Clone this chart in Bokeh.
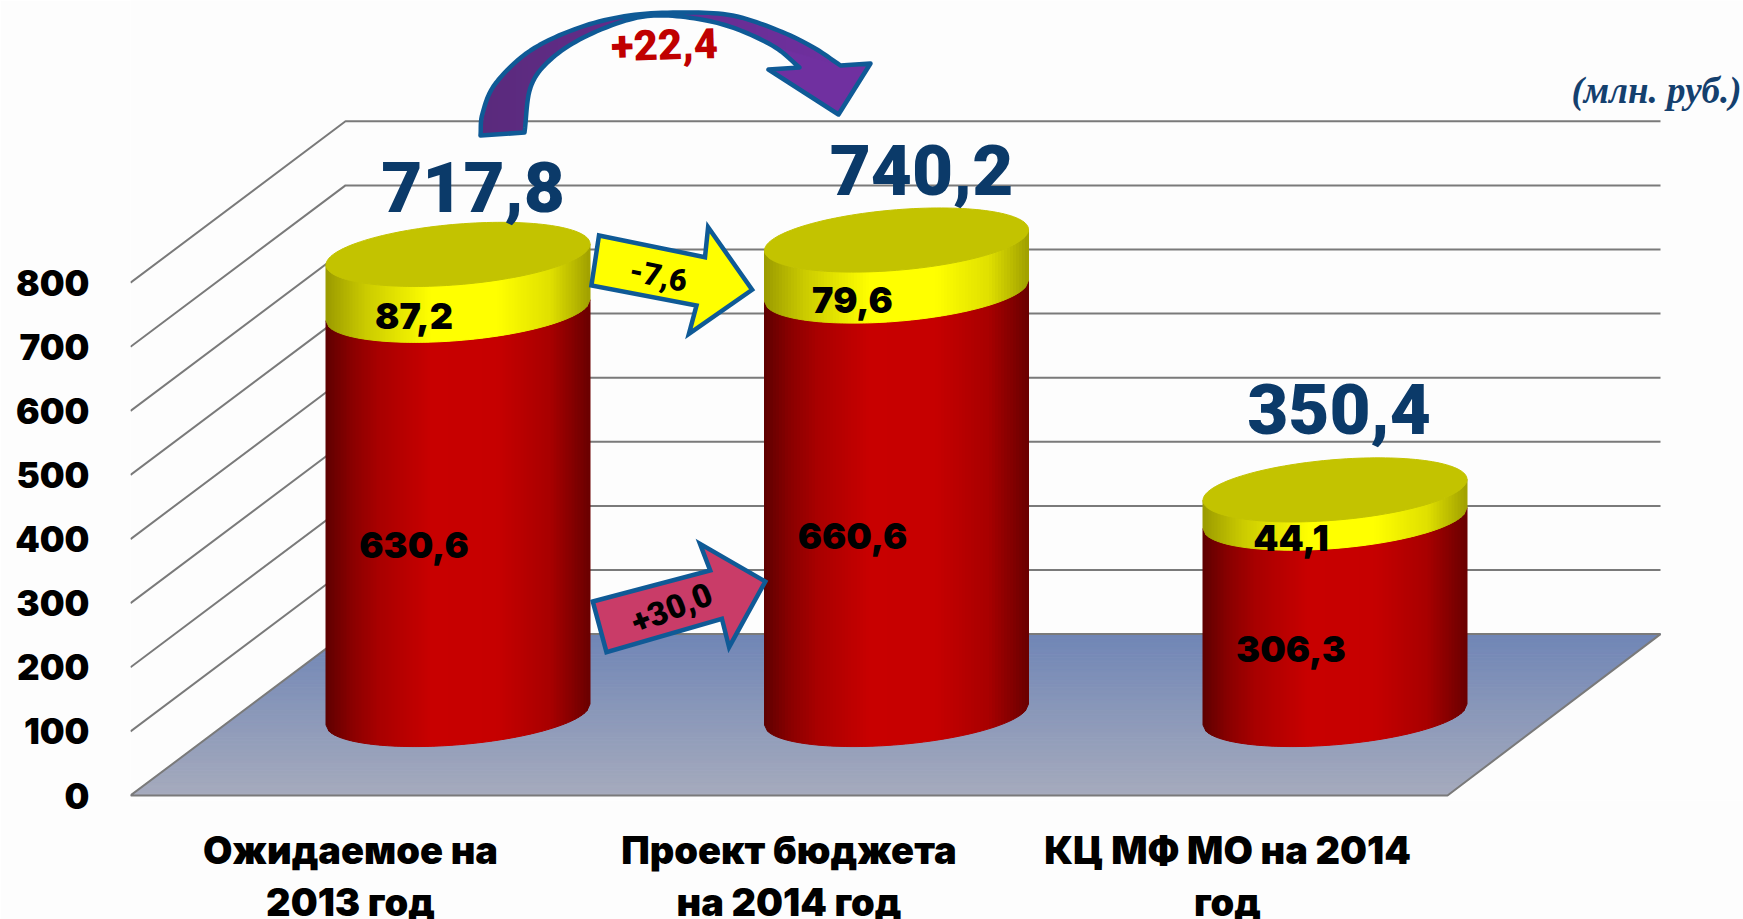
from bokeh.plotting import figure
from bokeh.embed import file_html
from bokeh.resources import INLINE
from bokeh.core.properties import value
from bokeh.models import LinearAxis, FixedTicker, Range1d
import numpy as np

# ---------- data ----------
line1 = ["Ожидаемое на", "Проект бюджета", "КЦ МФ МО на 2014"]
line2 = ["2013 год", "на 2014 год", "год"]
red_vals = [630.6, 660.6, 306.3]
yellow_vals = [87.2, 79.6, 44.1]
totals = [717.8, 740.2, 350.4]
y_ticks = [0, 100, 200, 300, 400, 500, 600, 700, 800]
delta_top = "+22,4"
delta_yellow = "-7,6"
delta_red = "+30,0"
unit_label = "(млн. руб.)"

# ---------- layout (reference pixels) ----------
W, H = 1743, 919
LEFT = 130
FRAME_BOTTOM = 800
ZERO_PX = 795
PX_PER_UNIT = 0.641
CAT0_PX, CAT_STEP = 457.5, 438.5
BASE_LIFT = (ZERO_PX - 714) / PX_PER_UNIT
BACK_LIFT = (ZERO_PX - 633.6) / PX_PER_UNIT
RX, RY, SKEW = 132.0, 30.3, 10.5
TOTAL_OFF = [67, 70, 81]
HEAVY = "Inter Black"


def X(px):
    return (np.asarray(px, dtype=float) - CAT0_PX) / CAT_STEP


def Y(px):
    return (ZERO_PX - np.asarray(px, dtype=float)) / PX_PER_UNIT


def hexc(c):
    return "#%02x%02x%02x" % tuple(int(round(v)) for v in c)


def ramp(stops, t):
    xs = [s[0] for s in stops]
    return hexc([np.interp(t, xs, [s[1][i] for s in stops]) for i in range(3)])


RED = [(0, (0x5e, 0, 0)), (.1, (0x8a, 0, 0)), (.2, (0xa8, 0, 0)), (.4, (0xc8, 0, 0)),
       (.65, (0xc6, 0, 0)), (.85, (0xa8, 0, 0)), (1, (0x6a, 0, 0))]
YEL = [(0, (0x9a, 0x9a, 0)), (.15, (0xca, 0xca, 0)), (.4, (0xff, 0xff, 0)),
       (.65, (0xff, 0xff, 0)), (.85, (0xe0, 0xe0, 0)), (1, (0xa0, 0xa0, 0))]

x0 = X(LEFT)
x1 = X(W)
p = figure(frame_width=W - LEFT, frame_height=FRAME_BOTTOM,
           min_border_left=LEFT, min_border_right=0, min_border_top=0, min_border_bottom=H - FRAME_BOTTOM,
           x_range=Range1d(float(x0), float(x1)),
           y_range=Range1d(float(Y(FRAME_BOTTOM)), float(Y(0))),
           output_backend="svg", toolbar_location=None,
           background_fill_color="#fdfdfd", border_fill_color="#fdfdfd",
           outline_line_color=None, margin=(0, 0, 0, 0))
p.xgrid.visible = False
p.ygrid.visible = False

# ---------- axes ----------
p.yaxis.ticker = FixedTicker(ticks=y_ticks)
p.yaxis.axis_line_color = None
p.yaxis.major_tick_line_color = None
p.yaxis.minor_tick_line_color = None
p.yaxis.major_label_standoff = 35
p.yaxis.major_label_text_font = HEAVY
p.yaxis.major_label_text_font_size = "35px"
p.yaxis.major_label_text_color = "#000000"

label_ticks = [round(i - 107.5 / CAT_STEP, 4) for i in range(3)]
ax1 = p.xaxis[0]
ax2 = LinearAxis()
p.add_layout(ax2, "below")
for ax, labels, standoff in ((ax1, line1, 20), (ax2, line2, -3)):
    ax.ticker = FixedTicker(ticks=label_ticks)
    ax.major_label_overrides = dict(zip(label_ticks, labels))
    ax.axis_line_color = None
    ax.major_tick_line_color = None
    ax.minor_tick_line_color = None
    ax.major_label_standoff = standoff
    ax.major_label_text_font = HEAVY
    ax.major_label_text_font_size = "38px"
    ax.major_label_text_color = "#000000"
    ax.major_label_text_line_height = 1.0

# ---------- walls' lines ----------
GRID = "#7a7a7a"
gx = [[LEFT, 345, 1660] for _ in y_ticks[1:]]
gy = [[v, v + BACK_LIFT, v + BACK_LIFT] for v in y_ticks[1:]]
p.multi_line([list(X(g)) for g in gx], gy, line_color=GRID, line_width=2)

# ---------- floor ----------
n = 70
ts = np.linspace(0, 1, n + 1)
fl = LEFT + (345 - LEFT) * ts
fr = 1447 + (1660 - 1447) * ts
fy = ts * BACK_LIFT
front, back = np.array([0xa6, 0xab, 0xbd]), np.array([0x70, 0x86, 0xb6])
cols = [hexc(front + (back - front) * (i + .5) / n) for i in range(n)]
xs = [list(X([fl[i], fr[i], fr[i + 1], fl[i + 1]])) for i in range(n)]
ys = [[fy[i], fy[i], fy[i + 1], fy[i + 1]] for i in range(n)]
p.patches(xs, ys, fill_color=cols, line_color=cols, line_width=1)
p.patch(list(X([LEFT, 1447, 1660, 345, LEFT])), [0, 0, BACK_LIFT, BACK_LIFT, 0],
        fill_color=None, line_color=GRID, line_width=2)

# ---------- cylinders ----------
def lower(u, level):
    return level + BASE_LIFT - RY * np.sqrt(np.clip(1 - u * u, 0, 1)) / PX_PER_UNIT + SKEW * u / PX_PER_UNIT


us = np.linspace(-1, 1, 89)
for i in range(3):
    for a, b, stops in ((0, red_vals[i], RED), (red_vals[i], totals[i], YEL)):
        sx, sy, sc = [], [], []
        for j in range(len(us) - 1):
            u0, u1 = us[j], us[j + 1]
            xa, xb = i + u0 * RX / CAT_STEP, i + u1 * RX / CAT_STEP
            sx.append([xa, xb, xb, xa])
            sy.append([lower(u0, a), lower(u1, a), lower(u1, b), lower(u0, b)])
            sc.append(ramp(stops, (u0 + u1 + 2) / 4))
        p.patches(sx, sy, fill_color=sc, line_color=sc, line_width=1)
    t = np.linspace(0, 2 * np.pi, 145)
    ex = i + np.cos(t) * RX / CAT_STEP
    ey = totals[i] + BASE_LIFT - RY * np.sin(t) / PX_PER_UNIT + SKEW * np.cos(t) / PX_PER_UNIT
    p.patch(list(ex), list(ey), fill_color="#c3c300", line_color="#c3c300", line_width=1)

# ---------- arrows ----------
EDGE = "#0f5a96"
p.patch(list(X([598.5, 704.5, 707.6, 751.6, 688.4, 696, 590.9])),
        list(Y([235, 256.7, 226.7, 289.3, 333.3, 305, 285])),
        fill_color="#ffff00", line_color=EDGE, line_width=4.5, line_join="miter")
p.patch(list(X([592.3, 709.7, 699.5, 764.8, 728.6, 721.4, 606])),
        list(Y([601, 570, 543.3, 581, 646.7, 618.3, 651.7])),
        fill_color="#c93c68", line_color=EDGE, line_width=4.5, line_join="miter")


def smooth(px, py, k=10):
    """Catmull-Rom through an outline's points."""
    P = np.column_stack([px, py]).astype(float)
    P = np.vstack([2 * P[0] - P[1], P, 2 * P[-1] - P[-2]])
    out = []
    for i in range(1, len(P) - 2):
        for t in np.linspace(0, 1, k, endpoint=False):
            out.append(.5 * (2 * P[i] + (P[i + 1] - P[i - 1]) * t
                             + (2 * P[i - 1] - 5 * P[i] + 4 * P[i + 1] - P[i + 2]) * t ** 2
                             + (3 * P[i] - P[i - 1] - 3 * P[i + 1] + P[i + 2]) * t ** 3))
    out.append(P[-2])
    return np.array(out)


outer = smooth([480, 482, 495, 530, 579, 629, 683, 732, 778, 813, 840],
               [135, 113, 83, 50, 27, 15, 12, 15, 30, 47, 65])
inner = smooth([524, 530, 549, 583, 629, 664, 706, 740, 775, 799],
               [132, 87, 60, 37, 19, 15, 20, 30, 47, 67])
sxs = np.arange(480, 840, 6.0)
sx, sy, sc = [], [], []
for a in sxs:
    b = a + 6
    grid = np.array([a, b])
    top = np.interp(grid, outer[:, 0], outer[:, 1])
    bot = np.where(grid < 524, 135 - (grid - 480) * 3 / 44, np.interp(grid, inner[:, 0], inner[:, 1]))
    bot = np.maximum(bot, top)
    sx.append(list(X([a, b, b, a])))
    sy.append(list(Y([top[0], top[1], bot[1], bot[0]])))
    f = (a - 480) / 360
    sc.append(hexc(np.array([0x5a, 0x2a, 0x7c]) + (np.array([0x70, 0x30, 0xa0]) - np.array([0x5a, 0x2a, 0x7c])) * f))
p.patches(sx, sy, fill_color=sc, line_color=sc, line_width=1)
head_x = [840, 870, 838, 768, 799, 775]
head_y = [65, 63, 114, 69, 67, 47]
p.patch(list(X(head_x)), list(Y(head_y)), fill_color="#7030a0", line_color="#7030a0", line_width=1)
ox = list(outer[:, 0]) + [870, 838, 768] + list(inner[::-1, 0]) + [480]
oy = list(outer[:, 1]) + [63, 114, 69] + list(inner[::-1, 1]) + [135]
p.patch(list(X(ox)), list(Y(oy)), fill_color=None, line_color=EDGE, line_width=4.5, line_join="round")

# ---------- value labels ----------
fmt = lambda v: f"{v:.1f}".replace(".", ",")
cats = list(range(3))
p.text(cats, [t + BASE_LIFT for t in totals], text=[fmt(t) for t in totals],
       text_font=value("Roboto Black"), text_font_size="71px",
       text_color="#0b3a69", text_align="center", text_baseline="middle",
       x_offset=[15, 25, 4], y_offset=[-o for o in TOTAL_OFF])
p.text(cats, [r / 2 + BASE_LIFT for r in red_vals], text=[fmt(v) for v in red_vals],
       text_font=value(HEAVY), text_font_size="36px",
       text_color="#000000", text_align="center", text_baseline="middle",
       x_offset=-44, y_offset=33)
p.text(cats, [r + y / 2 + BASE_LIFT for r, y in zip(red_vals, yellow_vals)], text=[fmt(v) for v in yellow_vals],
       text_font=value(HEAVY), text_font_size="36px",
       text_color="#000000", text_align="center", text_baseline="middle",
       x_offset=-44, y_offset=34)

# ---------- annotations ----------
def note(px, py, txt, size, color, angle=0.0, font="Roboto Black", style="normal"):
    p.text([float(X(px))], [float(Y(py))], text=[txt], angle=angle,
           text_font=value(font), text_font_style=style, text_font_size=size,
           text_color=color, text_align="center", text_baseline="middle")


note(664, 44, delta_top, "42px", "#c00000", angle=0.03)
note(658, 275, delta_yellow, "31px", "#000000", angle=-0.2)
note(671, 607, delta_red, "33px", "#000000", angle=0.38)
note(1656, 90, unit_label, "37px", "#14406e", font="Liberation Serif", style="bold italic")

open("out.html", "w").write(file_html(p, INLINE))
